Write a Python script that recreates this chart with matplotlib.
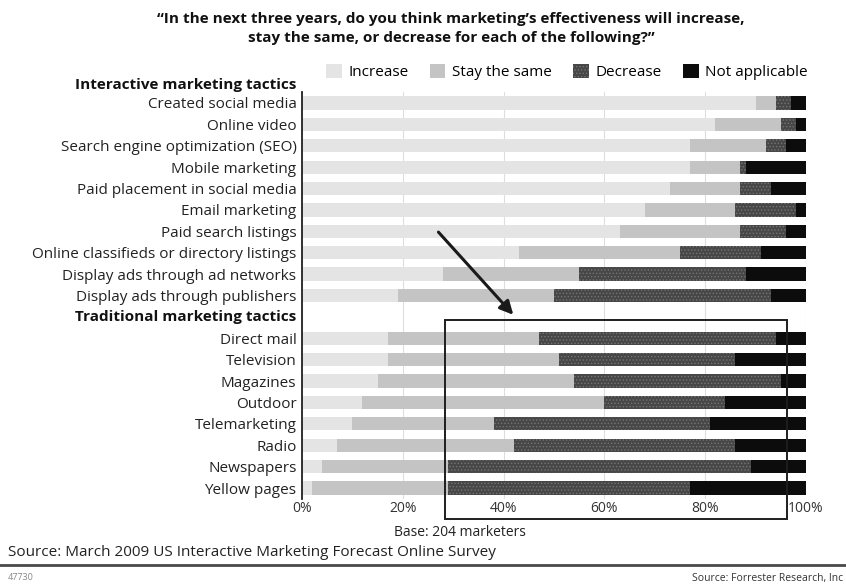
import numpy as np
import matplotlib.pyplot as plt
from matplotlib.patches import Rectangle
from matplotlib.lines import Line2D

plt.rcParams['font.family'] = ['Open Sans', 'DejaVu Sans']
plt.rcParams['hatch.linewidth'] = 0.6

# survey answers, percent of respondents
interactive = ['Created social media', 'Online video', 'Search engine optimization (SEO)',
               'Mobile marketing', 'Paid placement in social media', 'Email marketing',
               'Paid search listings', 'Online classifieds or directory listings',
               'Display ads through ad networks', 'Display ads through publishers']
traditional = ['Direct mail', 'Television', 'Magazines', 'Outdoor', 'Telemarketing',
               'Radio', 'Newspapers', 'Yellow pages']

increase = [90, 82, 77, 77, 73, 68, 63, 43, 28, 19,
            17, 17, 15, 12, 10, 7, 4, 2]
same     = [4, 13, 15, 10, 14, 18, 24, 32, 27, 31,
            30, 34, 39, 48, 28, 35, 25, 27]
decrease = [3, 3, 4, 1, 6, 12, 9, 16, 33, 43,
            47, 35, 41, 24, 43, 44, 60, 48]
not_app  = [3, 2, 4, 12, 7, 2, 4, 9, 12, 7,
            6, 14, 5, 16, 19, 14, 11, 23]

series = ['Increase', 'Stay the same', 'Decrease', 'Not applicable']
colors = ['#e4e4e4', '#c4c4c4', '#474747', '#0c0c0c']

# row slots: interactive 0-9, group header at 10, traditional 11-18
ypos = list(range(10)) + list(range(11, 19))
labels = interactive + traditional

fig = plt.figure(figsize=(8.46, 5.86), dpi=100)
ax = fig.add_axes([302/846, 1 - 498.7/586, 504/846, (498.7 - 92.3)/586])

data = np.array([increase, same, decrease, not_app], dtype=float)
left = np.zeros(len(ypos))
bars = []
for i in range(4):
    if i == 2:
        b = ax.barh(ypos, data[i], left=left, height=0.62, color=colors[i],
                    edgecolor='#747474', hatch='.....', linewidth=0, label=series[i])
    else:
        b = ax.barh(ypos, data[i], left=left, height=0.62, color=colors[i],
                    linewidth=0, label=series[i])
    bars.append(b)
    left += data[i]

ax.set_xlim(0, 100)
ax.set_ylim(18.5, -0.5)
ax.set_yticks(ypos)
ax.set_yticklabels(labels, fontsize=11, color='#222222')
ax.set_xticks([0, 20, 40, 60, 80, 100])
ax.set_xticklabels(['0%', '20%', '40%', '60%', '80%', '100%'], fontsize=10, color='#333333')
ax.tick_params(length=0, pad=4)
ax.tick_params(axis='x', pad=2)
ax.xaxis.grid(True, color='#dedede', lw=0.8)
ax.set_axisbelow(True)
for s in ['top', 'right', 'bottom']:
    ax.spines[s].set_visible(False)
ax.spines['left'].set_linewidth(1.3)
ax.spines['left'].set_color('#222222')

# group headers
ytr = ax.get_yaxis_transform()
ax.text(-0.012, -0.85, 'Interactive marketing tactics', transform=ytr, ha='right',
        va='center', fontsize=11, fontweight='bold', color='#111111')
ax.text(-0.012, 10, 'Traditional marketing tactics', transform=ytr, ha='right',
        va='center', fontsize=11, fontweight='bold', color='#111111')

# highlight of the traditional tactics
ax.add_patch(Rectangle((28.4, 10.14), 96.2 - 28.4, 19.45 - 10.14, fill=False,
                       edgecolor='#1e1e1e', lw=1.4, clip_on=False, zorder=5))
ax.annotate('', xy=(42.3, 10.0), xytext=(26.7, 5.94),
            arrowprops=dict(arrowstyle='-|>', lw=2.2, mutation_scale=20, color='#1a1a1a'),
            annotation_clip=False, zorder=6)

ax.legend(handles=bars, ncol=4, loc='center right', bbox_to_anchor=(808/846, 1 - 72/586),
          bbox_transform=fig.transFigure, frameon=False, fontsize=11,
          handlelength=1.0, handleheight=1.0, handletextpad=0.45,
          columnspacing=1.4, borderpad=0, borderaxespad=0)

fig.text(451/846, 1 - 19/586, '\u201cIn the next three years, do you think marketing\u2019s effectiveness will increase,',
         ha='center', va='center', fontsize=11, fontweight='bold', color='#111111')
fig.text(451/846, 1 - 38/586, 'stay the same, or decrease for each of the following?\u201d',
         ha='center', va='center', fontsize=11, fontweight='bold', color='#111111')

fig.text(460/846, 1 - 533/586, 'Base: 204 marketers', ha='center', va='center',
         fontsize=10, color='#222222')
fig.text(8/846, 1 - 552/586, 'Source: March 2009 US Interactive Marketing Forecast Online Survey',
         ha='left', va='center', fontsize=11, color='#222222')
fig.add_artist(Line2D([0, 1], [1 - 565/586, 1 - 565/586], transform=fig.transFigure,
                      color='#4a4a4a', lw=2))
fig.text(8/846, 1 - 578/586, '47730', ha='left', va='center', fontsize=6.5, color='#888888')
fig.text(843/846, 1 - 578/586, 'Source: Forrester Research, Inc', ha='right', va='center',
         fontsize=7.5, color='#333333')

plt.savefig('out.png', dpi=100)
